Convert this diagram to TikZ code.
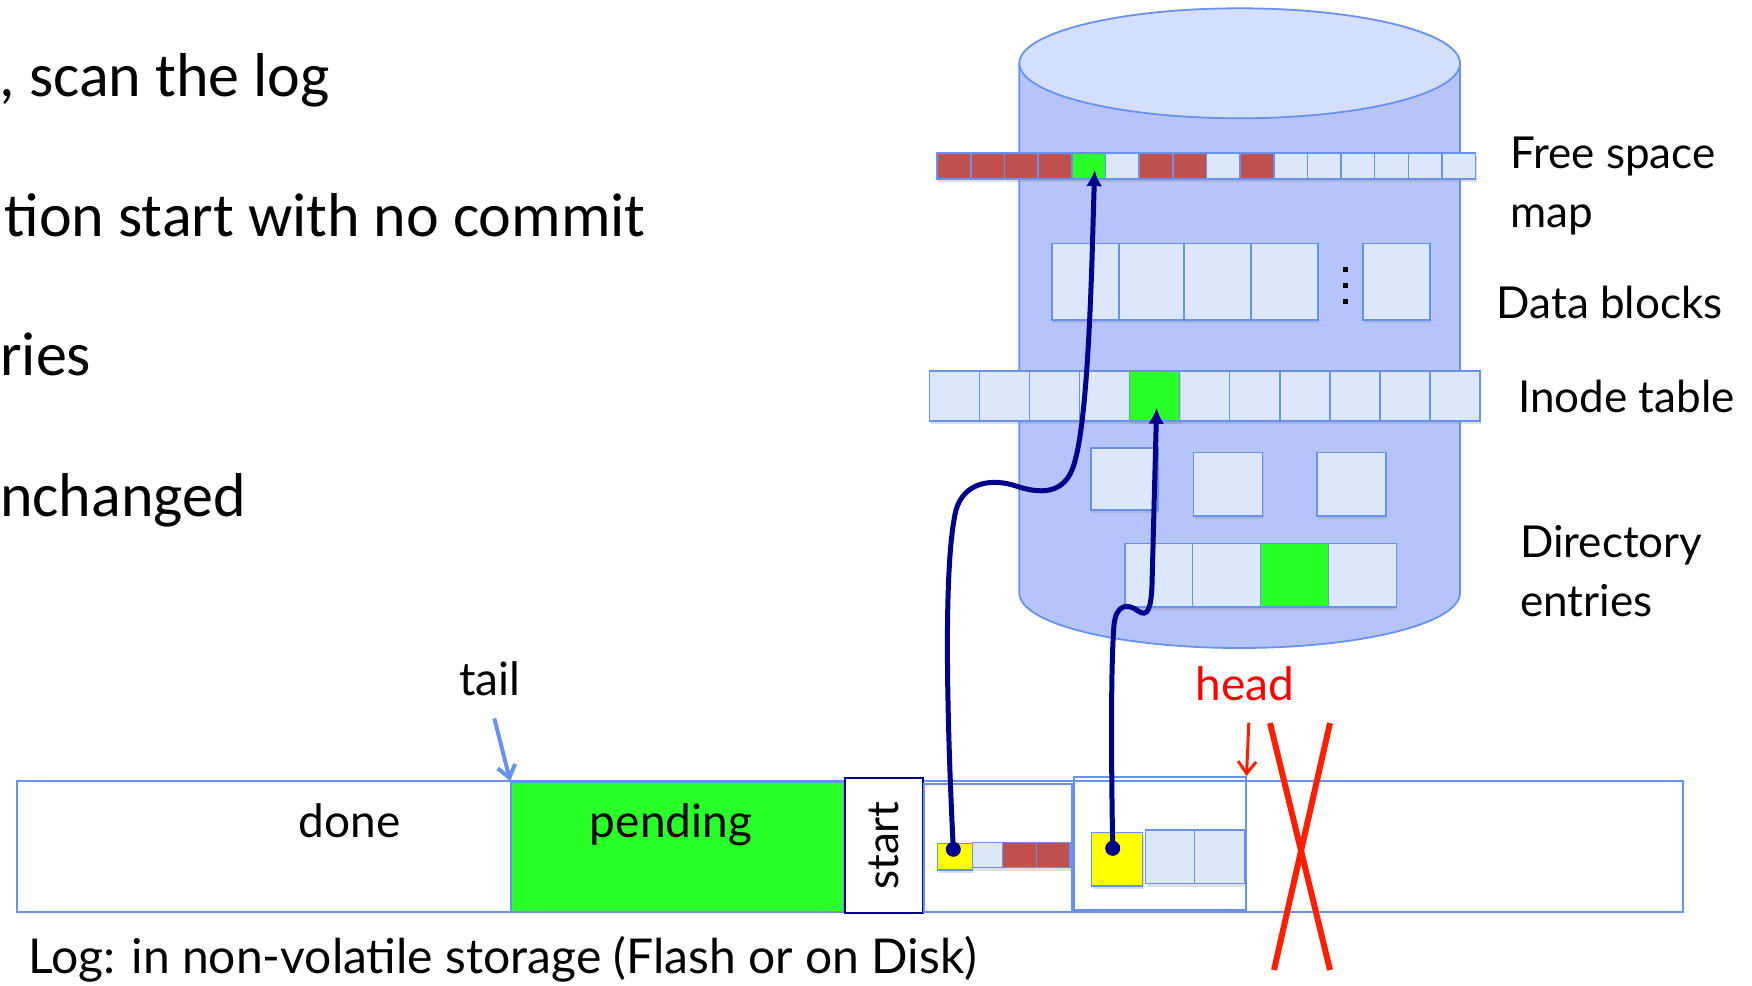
\documentclass[tikz,border=0pt]{standalone}
\usepackage{fontspec}
\setmainfont{Carlito}
\newfontfamily\gill{Lato}
\usetikzlibrary{positioning,arrows.meta,shadows}

\definecolor{diskbody}{RGB}{181,197,252}
\definecolor{disktop}{RGB}{212,222,253}
\definecolor{diskline}{RGB}{104,146,240}
\definecolor{cellfill}{RGB}{221,231,252}
\definecolor{usedred}{RGB}{192,80,77}
\definecolor{newgreen}{RGB}{42,255,42}
\definecolor{logyellow}{RGB}{255,255,0}
\definecolor{linknavy}{RGB}{0,0,140}
\definecolor{headred}{RGB}{255,30,0}

\tikzset{cell/.style={ % one block on the disk or in the log
           draw=diskline, fill=cellfill, line width=1.6pt,
           inner sep=0pt, anchor=north west,
           drop shadow={shadow xshift=1pt, shadow yshift=-3pt, opacity=0.25}},
         disk/.style={draw=diskline, line width=1.8pt},
         logbox/.style={draw=diskline, line width=1.8pt, inner sep=0pt, anchor=north west},
         lab/.style={font=\gill\fontsize{44}{59}\selectfont, inner sep=0pt, align=left, anchor=base west},
         loglab/.style={font=\gill\fontsize{46}{50}\selectfont, inner sep=0pt},
         bullet/.style={font=\fontsize{62}{70}\selectfont, inner sep=0pt, anchor=base east},
         dot/.style={circle, fill=linknavy, inner sep=0pt, minimum size=15pt},
         link/.style={draw=linknavy, line width=5pt, -{Latex[length=16pt,width=16pt]}}}

\begin{document}
\begin{tikzpicture}[x=1pt, y=-1pt]
  \useasboundingbox (0,0) rectangle (1752,985);

  % slide text, cut at the left edge
  \node[bullet] (b1) at (330,96) {, scan the log};
  \node[bullet] (b2) at (646,236) {tion start with no commit};
  \node[bullet, anchor=base west] (b3) at (0,375) {ries};
  \node[bullet, anchor=base west] (b4) at (0,516) {nchanged};

  % the disk
  \path[disk, fill=diskbody] (1019.3,63.3) -- (1019.3,593)
     arc[start angle=180, end angle=360, x radius=220.35pt, y radius=55pt] -- (1460,63.3);
  \path[disk, fill=disktop] (1239.65,63.3) ellipse [x radius=220.35pt, y radius=55pt];

  % free space map
  \foreach \c [count=\i from 0] in {usedred,usedred,usedred,usedred,newgreen,cellfill,usedred,usedred,
                                    cellfill,usedred,cellfill,cellfill,cellfill,cellfill,cellfill,cellfill}
    \node[cell, fill=\c, minimum width=33.65pt, minimum height=26pt] (fsm\i) at ({936.4+33.65*\i},152.3) {};

  % data blocks
  \foreach \x [count=\i] in {1051.2,1118.1,1183.2,1250.2}
    \node[cell, minimum width=66.9pt, minimum height=76.3pt] (db\i) at (\x,242.7) {};
  \node[cell, minimum width=67.4pt, minimum height=76.3pt] (db5) at (1361.9,242.7) {};
  \foreach \y in {267,283,299}
    \fill (1342.5,\y) rectangle +(5,5);

  % inode table
  \foreach \i in {0,...,10}
    \node[cell, minimum width=50.03pt, minimum height=50pt] (ino\i) at ({928.7+50.03*\i},370) {};
  \node[cell, fill=newgreen, minimum width=50.03pt, minimum height=50pt] (ino4) at (1128.8,370) {};

  \node[cell, minimum width=67pt, minimum height=62.3pt] (mid1) at (1090.2,447) {};
  \node[cell, minimum width=68.9pt, minimum height=63.3pt] (mid2) at (1192.8,451.7) {};
  \node[cell, minimum width=68.5pt, minimum height=63.3pt] (mid3) at (1316.4,451.7) {};

  % directory entries
  \foreach \c [count=\i from 0] in {cellfill,cellfill,newgreen,cellfill}
    \node[cell, fill=\c, minimum width=67.9pt, minimum height=63.3pt] (dir\i) at ({1123.9+67.9*\i},542.7) {};

  \node[lab] (fsmlab) at (1510,227) {Free space\\map};
  \node[lab] (dblab) at (1496.7,318.6) {Data blocks};
  \node[lab] (inolab) at (1518,412.5) {Inode table};
  \node[lab] (dirlab) at (1520,616) {Directory\\entries};

  % the log
  \node[logbox, minimum width=1665.8pt, minimum height=130.7pt] (log) at (16,780) {};
  \node[logbox, fill=newgreen, minimum width=332.8pt, minimum height=129.7pt] (pending) at (510.2,781) {};
  \draw[diskline, line width=3pt] (pending.north west) -- (pending.north east);
  \node[loglab, anchor=base] (donelab) at (349.5,837) {done};
  \node[loglab, anchor=base] (pendlab) at (671,837) {pending};
  \node[logbox, draw=linknavy, fill=white, anchor=center, rotate=90, minimum width=134.4pt,
        minimum height=77.9pt, font=\gill\fontsize{44}{50}\selectfont] (start) at (884,845.5) {start};
  \node[logbox, minimum width=147.4pt, minimum height=128pt] (seg2) at (923.3,782.7) {};
  \node[logbox, minimum width=171.7pt, minimum height=133pt] (seg3) at (1073,776) {};

  \node[cell, fill=logyellow, minimum width=35pt, minimum height=26.6pt] (lc1) at (936.7,842.7) {};
  \node[cell, minimum width=30pt, minimum height=25pt] (lc2) at (971.7,841.7) {};
  \node[cell, fill=usedred, minimum width=34pt, minimum height=25pt] (lc3) at (1001.7,841.7) {};
  \node[cell, fill=usedred, minimum width=33.3pt, minimum height=25pt] (lc4) at (1035.7,841.7) {};

  \node[cell, fill=logyellow, minimum width=51pt, minimum height=53.3pt] (lb1) at (1090.7,831.7) {};
  \node[cell, minimum width=48.8pt, minimum height=53.4pt] (lb2) at (1144.7,829.3) {};
  \node[cell, minimum width=50pt, minimum height=53.4pt] (lb3) at (1193.5,829.3) {};

  \node[dot] (dot1) at (953.3,849.3) {};
  \node[dot] (dot2) at (1112.7,848.3) {};

  \draw[link] (dot1.center) .. controls (946,700) and (944,560) .. (956,510)
     .. controls (964,482) and (992,478) .. (1016,486)
     .. controls (1040,494) and (1062,494) .. (1072,470)
     .. controls (1082,445) and (1088,380) .. (1092,260)
     -- ([xshift=6pt, yshift=-4pt]fsm4.center);
  \draw[link] (dot2.center) .. controls (1111,750) and (1111,660) .. (1114,625)
     .. controls (1116,604) and (1128,603) .. (1138,611)
     .. controls (1148,618) and (1151,608) .. (1152,585)
     -- ([xshift=2pt, yshift=-12pt]ino4.center);

  % tail and head pointers
  \node[loglab, anchor=base] (tail) at (490,695) {tail};
  \coordinate (tailfrom) at (494.3,718.3);
  \draw[diskline, line width=4pt, -{Straight Barb[length=12pt,width=18pt]}] (tailfrom) -- (pending.north west);
  \node[loglab, anchor=base, text=red] (head) at (1245,700) {head};
  \coordinate (headfrom) at (1248.8,722.7);
  \draw[headred, line width=3pt, -{Straight Barb[length=12pt,width=18pt]}] (headfrom) -- (seg3.north east);
  \draw[headred, line width=6pt] (1270,723) -- (1330,970);
  \draw[headred, line width=6pt] (1330,723) -- (1274,970);

  \node[loglab, anchor=base west, font=\gill\fontsize{48}{50}\selectfont] (loglab) at (28,973)
       {Log: in non-volatile storage (Flash or on Disk)};
\end{tikzpicture}
\end{document}
